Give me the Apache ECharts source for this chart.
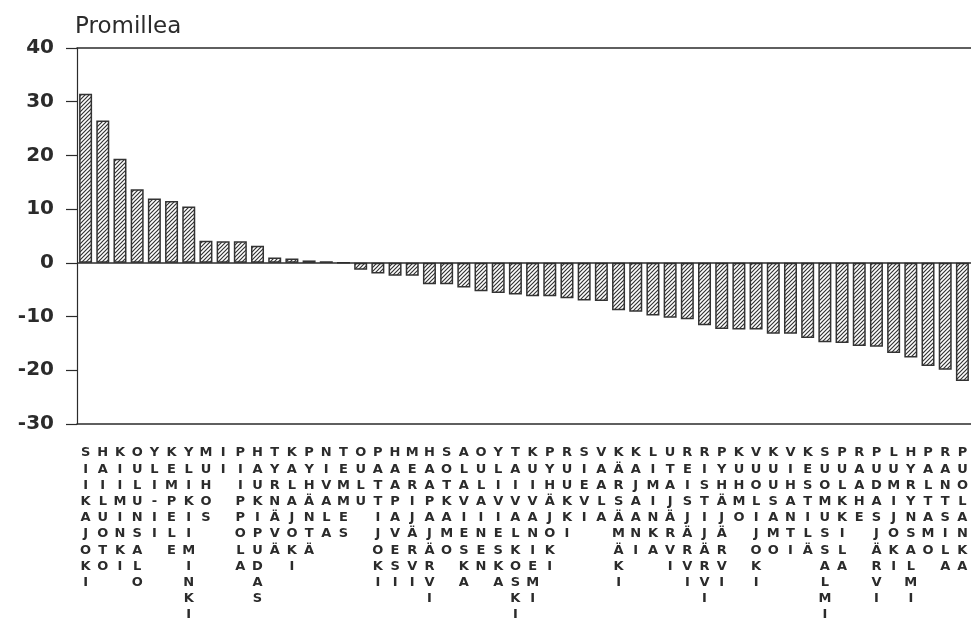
<!DOCTYPE html>
<html>
<head>
<meta charset="utf-8">
<script src="https://cdn.jsdelivr.net/npm/echarts@6/dist/echarts.min.js"></script>
<style>html,body{margin:0;padding:0;background:#fff;}#c{width:971px;height:624px;}</style>
</head>
<body>
<div id="c"></div>
<script>
const categories = ["SIIKAJOKI","HAILUOTO","KIIMINKI","OULUNSALO","YLI-II","KEMPELE","YLIKIIMINKI","MUHOS","II","PIIPPOLA","HAUKIPUDAS","TYRNÄVÄ","KALAJOKI","PYHÄNTÄ","NIVALA","TEMMES","OULU","PATTIJOKI","HAAPAVESI","MERIJÄRVI","HAAPAJÄRVI","SOTKAMO","ALAVIESKA","OULAINEN","YLIVIESKA","TAIVALKOSKI","KUIVANIEMI","PYHÄJOKI","RUUKKI","SIEVI","VAALA","KÄRSÄMÄKI","KAJAANI","LIMINKA","UTAJÄRVI","REISJÄRVI","RISTIJÄRVI","PYHÄJÄRVI","KUHMO","VUOLIJOKI","KUUSAMO","VIHANTI","KESTILÄ","SUOMUSSALMI","PULKKILA","RAAHE","PUDASJÄRVI","LUMIJOKI","HYRYNSALMI","PALTAMO","RANTSILA","PUOLANKA"];
const values = [31.5,26.5,19.4,13.7,12.0,11.5,10.5,4.1,4.0,4.0,3.2,1.0,0.8,0.45,0.3,0,-1.3,-2.0,-2.4,-2.4,-4.0,-4.0,-4.6,-5.3,-5.6,-5.9,-6.2,-6.2,-6.6,-7.0,-7.1,-8.8,-9.1,-9.8,-10.2,-10.5,-11.6,-12.3,-12.4,-12.4,-13.2,-13.2,-14.0,-14.8,-14.9,-15.5,-15.6,-16.8,-17.6,-19.2,-19.9,-22.0];
const yTicks = [-30,-20,-10,0,10,20,30,40];
const unitLabel = "Promillea";

function hatch(){
  const s = 4;
  const c = document.createElement('canvas');
  c.width = s; c.height = s;
  const g = c.getContext('2d');
  g.fillStyle = '#fff'; g.fillRect(0,0,s,s);
  g.strokeStyle = '#333'; g.lineWidth = 1.2;
  g.beginPath();
  g.moveTo(0,s); g.lineTo(s,0);
  g.moveTo(-1,1); g.lineTo(1,-1);
  g.moveTo(s-1,s+1); g.lineTo(s+1,s-1);
  g.stroke();
  return c;
}

const chart = echarts.init(document.getElementById('c'));
const ink = '#2b2b2b';
chart.setOption({
  animation: false,
  backgroundColor: '#fff',
  graphic: [{
    type: 'text', left: 75, top: 16,
    style: { text: unitLabel, font: 'normal 23px "DejaVu Sans"', fill: ink }
  }],
  grid: { left: 77, top: 48, width: 899, bottom: 200, containLabel: false },
  xAxis: [{
    type: 'category',
    data: categories,
    position: 'bottom',
    axisLine: { onZero: false, lineStyle: { color: ink, width: 1.5 } },
    axisTick: { alignWithLabel: true, length: 11, lineStyle: { color: ink, width: 1.2 } },
    axisLabel: {
      interval: 0, margin: 21,
      fontFamily: 'DejaVu Sans', fontWeight: 'bold', fontSize: 13, lineHeight: 16.2,
      color: ink,
      formatter: v => v.split('').join('\n')
    }
  },{
    type: 'category',
    data: categories,
    position: 'top',
    axisLine: { show: true, onZero: false, lineStyle: { color: ink, width: 1.5 } },
    axisTick: { show: false },
    axisLabel: { show: false }
  }],
  yAxis: {
    type: 'value', min: yTicks[0], max: yTicks[yTicks.length-1], interval: 10,
    axisLine: { show: true, lineStyle: { color: ink, width: 1.2 } },
    axisTick: { show: true, length: 11, lineStyle: { color: ink, width: 1.2 } },
    splitLine: { show: false },
    axisLabel: { margin: 23, fontFamily: 'DejaVu Sans', fontWeight: 'bold', fontSize: 20, color: ink }
  },
  series: [{
    type: 'bar',
    data: values,
    barWidth: 13,
    itemStyle: { color: { image: hatch(), repeat: 'repeat' }, borderColor: '#333', borderWidth: 1.5 },
    markLine: {
      silent: true, symbol: 'none', label: { show: false },
      lineStyle: { color: ink, type: 'solid', width: 1.5 },
      data: [{ yAxis: 0 }]
    }
  }]
});
</script>
</body>
</html>
